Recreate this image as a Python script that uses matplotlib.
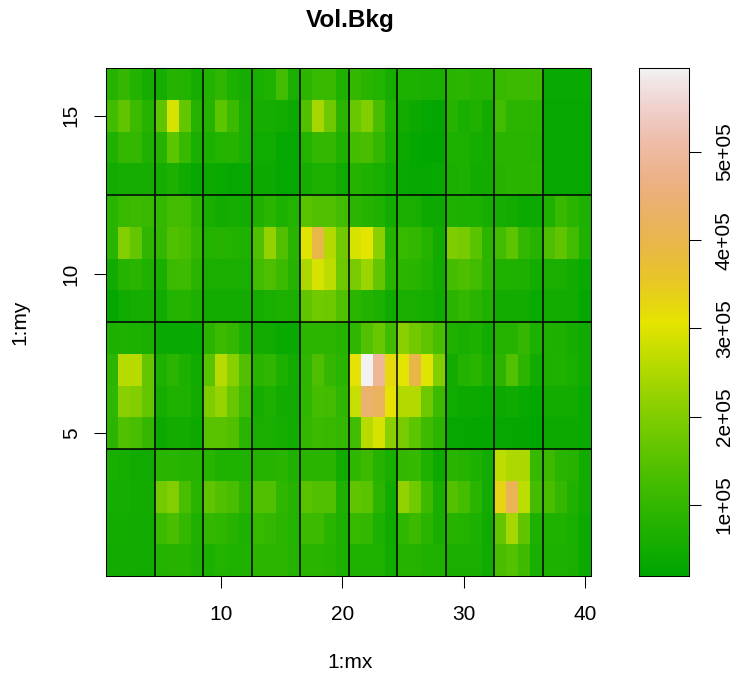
import colorsys
import numpy as np
import matplotlib
matplotlib.use("Agg")
import matplotlib.pyplot as plt
from matplotlib.colors import ListedColormap, Normalize

plt.rcParams['font.family'] = ['Liberation Sans', 'DejaVu Sans']

# Vol.Bkg values in units of 1e4, columns 1..40
row_16 = [8,10,7.5,5.5, 5.5,8,7.5,5.5, 7.5,9.5,6.5,5.5, 6,7,12,6, 9,10.5,10.5,7, 10,8.5,7.5,5.5, 6.5,6.5,6,6, 8.5,9,8,8, 10.5,11,11,11, 3.5,3.5,3.5,3.5]
row_15 = [12,16,11,8, 16,29,16.5,8, 8,15.5,11,6, 5.5,5.5,5,4, 14,24,17.5,9, 17,20,13,7, 5,4,3,2.5, 8,6,7,5, 12,9,9,8.5, 3,3,3,3]
row_14 = [7,10,10,7, 8,15.5,10.5,6, 6.5,7.5,8,6, 4.5,4.5,3,3, 7.5,10,10,7, 12.5,13,10,6, 4,3,2.2,2.2, 6.5,6.5,5.5,5, 8.5,8.5,8.5,8, 3,3,3,3]
row_13 = [5,5.5,5.5,5.5, 5.5,6.5,4.5,3, 4,3.5,3,3, 4,4,3,3, 5.5,6.5,6.5,4.5, 8,7,6,4.5, 3.5,3,3,3.5, 6,6.5,5,5, 8,8.5,8.5,8.5, 3,3,3,3]
row_12 = [8.5,10.5,11,10.5, 10,12,12,9, 6,5,5.5,5, 7,8.5,6.5,7.5, 15,14,14,12, 9,8,7,5, 6,6,4,4, 7,6.5,6.5,5.5, 5.5,5,4,4, 7,10.5,8.5,6.5]
row_11 = [8.5,20,16.5,9.5, 10,14,13,10, 7.5,8,7.5,7, 14,22,14,8.5, 30,39.5,25.5,18, 29,30.5,21,8, 10.5,10,8,5, 19.5,19,15,9, 12,15.5,10,8, 13.5,16,12,7]
row_10 = [4.5,8,8.5,7, 6,11,11.5,8.5, 6,6,6,6, 12,13.5,11,8, 24.5,29,26.5,17.5, 19,23,16.5,8.5, 9,8.5,7,5, 12.5,13.5,12,9, 7,7,6.5,5, 6,6,5,3.5]
row_09 = [2.5,4.5,5.5,5.5, 4.5,7.5,8,6.5, 5,5,5,5, 5.5,6,6.5,6, 16,18,17.5,14, 9,7.5,6.5,4.5, 6,6,5.5,4.5, 8.5,10,8.5,7, 5,5,5,3.5, 5,5,4.5,2.5]
row_08 = [6.5,7,6.5,6, 3.5,3.5,3.5,3.5, 8.5,11,10,6.5, 5,4.5,3.5,3.5, 9,9,9,8, 9.5,14,17,12, 21,18,16,13, 7,6,6.5,5, 8,8,10,6.5, 7,6.5,5.5,4.5]
row_07 = [9,26,26,16.5, 6.5,9,6.5,4.5, 15,26,21,14, 8.5,9.5,6.5,5, 9.5,13.5,10,8.5, 31,59.5,49,32.5, 30.5,39.5,30,20, 5,7.5,8.5,6, 9,14,9,5, 6.5,7,6,4.5]
row_06 = [9.5,21,20,16.5, 5.5,7,7,5, 19.5,22.5,17,12, 5.5,6.5,5,4.5, 9.5,12.5,12,9.5, 27.5,44,42,31, 25.5,25.5,17.5,11, 4.5,4,4,3.5, 4,4.5,3.5,2.5, 5,5,5,3.5]
row_05 = [9,14,13,10, 4,5,5,4, 15,15,14,8.5, 6,6,5.5,5, 10,11,10.5,10, 12,26,29,21, 19,15.5,11.5,9, 3,3,2.5,2.5, 3,3,2.5,2, 4,4,4,3.5]
row_04 = [6,5.5,4.5,4.5, 8.5,8.5,8,8, 8.5,7,7,7, 8,8,8.5,7, 8.5,8.5,8.5,5, 9.5,11,8,6, 10,10.5,7,4, 8.5,8,6.5,5, 26.5,25,24.5,10.5, 11,8.5,8,5]
row_03 = [5.5,5.5,5,5, 18.5,20,13,8.5, 16,14,13,9, 14,14,9.5,8, 15,14,14,7, 16,15,9,5, 22,18,11,6, 14.5,12.5,8.5,5, 33,41,26.5,12.5, 13,10,7,5]
row_02 = [5,5,4.5,4.5, 11,13,10,7, 10,9.5,8,6.5, 10.5,10,9,7.5, 11,11,8.5,6.5, 10.5,10,6.5,4.5, 9.5,11,8.5,6, 8,7.5,6.5,4.5, 16.5,24,16,6.5, 7,7,6,4]
row_01 = [4.5,5,4.5,4.5, 7.5,8,8,6.5, 6.5,7.5,7,7, 9,9,9,8, 8.5,8.5,8,6.5, 7,7,7,5, 8,8,7,7, 6,6,6,4.5, 13,14.5,11.5,6, 6.5,6.5,6,4]

rows = [row_01, row_02, row_03, row_04, row_05, row_06, row_07, row_08,
        row_09, row_10, row_11, row_12, row_13, row_14, row_15, row_16]
values = np.array(rows) * 1e4

x_ticks = [10, 20, 30, 40]
y_ticks = [5, 10, 15]
bar_ticks = [1e5, 2e5, 3e5, 4e5, 5e5]
bar_labels = ['1e+05', '2e+05', '3e+05', '4e+05', '5e+05']
x_breaks = [4.5, 8.5, 12.5, 16.5, 20.5, 24.5, 28.5, 32.5, 36.5]
y_breaks = [4.5, 8.5, 12.5]
vmin, vmax = 1.95e4, 5.95e5


def terrain_colors(n):
    k = n // 2
    a = [colorsys.hsv_to_rgb(h, s, v) for h, s, v in zip(
        np.linspace(4/12, 2/12, k), np.linspace(1, 1, k), np.linspace(.65, .9, k))]
    m = n - k + 1
    b = [colorsys.hsv_to_rgb(h, s, v) for h, s, v in zip(
        np.linspace(2/12, 0, m)[1:], np.linspace(1, 0, m)[1:], np.linspace(.9, .95, m)[1:])]
    return ListedColormap(a + b)


W, H = 736, 674
fig = plt.figure(figsize=(W / 100, H / 100), dpi=100)


def box(l, t, r, b):
    return [l / W, 1 - b / H, (r - l) / W, (b - t) / H]


ax = fig.add_axes(box(106, 68, 591, 576))
cax = fig.add_axes(box(639, 68, 689, 576))
cmap = terrain_colors(256)
norm = Normalize(vmin, vmax)
xe = np.arange(0.5, 41)
ye = np.arange(0.5, 17)
mesh = ax.pcolormesh(xe, ye, values, cmap=cmap, norm=norm, linewidth=0, rasterized=True)
for x in x_breaks:
    ax.axvline(x, color='black', lw=1.1)
for y in y_breaks:
    ax.axhline(y, color='black', lw=1.1)
ax.set_xlim(0.5, 40.5)
ax.set_ylim(0.5, 16.5)
ax.set_xticks(x_ticks)
ax.set_yticks(y_ticks)
ax.tick_params(axis='x', length=8.6, width=0.75, labelsize=15, pad=12)
ax.tick_params(axis='y', length=8.6, width=0.75, labelsize=15, pad=9.5)
for t in ax.get_yticklabels():
    t.set_rotation(90)
    t.set_va('center')
for s in ax.spines.values():
    s.set_linewidth(0.75)
fig.text(350 / W, 1 - 20 / H, 'Vol.Bkg', ha='center', va='center', fontsize=17.5, fontweight='bold')
fig.text(350 / W, 1 - 662 / H, '1:mx', ha='center', va='center', fontsize=15)
fig.text(20 / W, 1 - 322 / H, '1:my', ha='center', va='center', rotation=90, fontsize=15)

grad = np.linspace(vmin, vmax, 256)[:, None]
cax.imshow(grad, origin='lower', aspect='auto', cmap=cmap, norm=norm,
           extent=[0, 1, vmin, vmax], interpolation='nearest')
cax.set_xticks([])
cax.yaxis.tick_right()
cax.set_yticks(bar_ticks)
cax.set_yticklabels(bar_labels)
cax.tick_params(axis='y', length=8.6, width=0.75, labelsize=15, pad=10)
for t in cax.get_yticklabels():
    t.set_rotation(90)
    t.set_va('center')
for s in cax.spines.values():
    s.set_linewidth(0.75)

fig.savefig('out.png', dpi=100)
